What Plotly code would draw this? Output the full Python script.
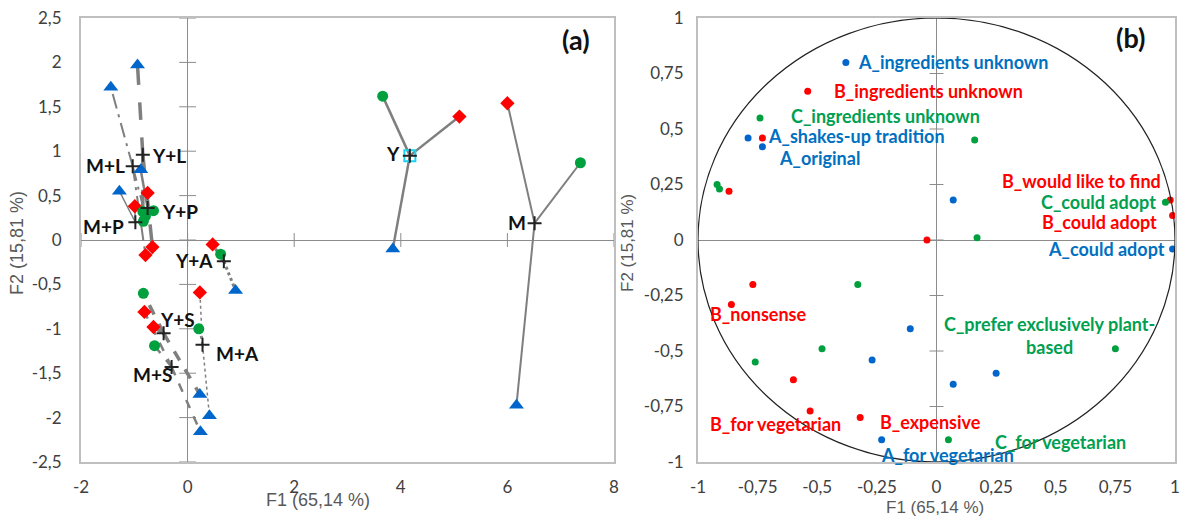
import plotly.graph_objects as go

# ---------------- Panel (a) data ----------------
groups = ["Y", "M", "Y+L", "M+L", "Y+P", "M+P", "Y+A", "M+A", "Y+S", "M+S"]
centroid_x = [4.17, 6.51, -0.84, -1.03, -0.75, -0.98, 0.68, 0.28, -0.45, -0.30]
centroid_y = [0.95, 0.19, 0.96, 0.83, 0.36, 0.20, -0.24, -1.18, -1.05, -1.43]
green_x = [3.66, 7.37, -0.84, -0.79, -0.64, -0.83, 0.62, 0.21, -0.83, -0.62]
green_y = [1.62, 0.87, 0.32, 0.27, 0.33, 0.21, -0.16, -1.00, -0.60, -1.19]
red_x = [5.10, 6.00, -0.66, -0.79, -0.75, -0.99, 0.47, 0.23, -0.64, -0.81]
red_y = [1.39, 1.54, -0.08, -0.17, 0.53, 0.38, -0.05, -0.59, -0.98, -0.81]
blue_x = [3.85, 6.17, -0.94, -1.44, -0.88, -1.28, 0.90, 0.41, 0.23, 0.24]
blue_y = [-0.10, -1.86, 1.97, 1.72, 0.79, 0.55, -0.57, -1.98, -1.74, -2.16]

a_xticks = [-2, 0, 2, 4, 6, 8]
a_yticks = [-2.5, -2, -1.5, -1, -0.5, 0, 0.5, 1, 1.5, 2, 2.5]

# ---------------- Panel (b) data ----------------
A_x = [-0.38, -0.79, -0.73, 0.07, 0.99, -0.11, -0.27, 0.07, 0.25, -0.23]
A_y = [0.80, 0.46, 0.42, 0.18, -0.04, -0.40, -0.54, -0.65, -0.60, -0.90]
A_lab = ["A_ingredients unknown", "A_shakes-up tradition", "A_original", "",
         "A_could adopt", "", "", "", "", "A_for vegetarian"]
B_x = [-0.54, -0.73, -0.87, -0.04, 0.98, 0.99, -0.77, -0.86, -0.60, -0.53, -0.32]
B_y = [0.67, 0.46, 0.22, 0.00, 0.18, 0.11, -0.20, -0.29, -0.63, -0.77, -0.80]
B_lab = ["B_ingredients unknown", "", "", "", "B_would like to find", "B_could adopt",
         "", "B_nonsense", "", "B_for vegetarian", "B_expensive"]
C_x = [-0.74, -0.92, -0.91, 0.16, 0.17, 0.96, -0.33, -0.48, -0.76, 0.75, 0.05]
C_y = [0.55, 0.25, 0.23, 0.45, 0.01, 0.17, -0.20, -0.49, -0.55, -0.49, -0.90]
C_lab = ["C_ingredients unknown", "", "", "", "", "C_could adopt", "", "", "",
         "C_prefer exclusively plant-<br>based", "C_for vegetarian"]

b_ticks = [-1, -0.75, -0.5, -0.25, 0, 0.25, 0.5, 0.75, 1]
circle_radius = 1

def fmt(v):
    return ("%g" % v).replace(".", ",")

# ---------------- styles ----------------
W, H = 1182, 520
GREEN, RED, BLUE = "#00A03E", "#FF0000", "#0066CC"
TGREEN, TRED, TBLUE = "#00A050", "#FF0000", "#0070C0"
LINE = "#7F7F7F"
line_styles = {
    "Y": ("solid", 2.5), "M": ("solid", 2.0),
    "Y+L": ("longdash", 3.5), "M+L": ("longdashdot", 2.0),
    "Y+P": ("solid", 2.5), "M+P": ("solid", 1.5),
    "Y+A": ("dot", 3.0), "M+A": ("dot", 1.5),
    "Y+S": ("dash", 3.5), "M+S": ("dash", 2.5),
}
# label placement for panel (a): (xanchor, xshift, yshift)
a_label_pos = {
    "Y": ("right", -8, 2), "M": ("right", -7, 1),
    "Y+L": ("left", 7, -1), "M+L": ("right", -6, 1),
    "Y+P": ("left", 12, -3), "M+P": ("right", -9, -4),
    "Y+A": ("right", -9, 1), "M+A": ("left", 11, -9),
    "Y+S": ("left", -6, 14), "M+S": ("right", 2, -8),
}
# label placement for panel (b): (xanchor, xshift, yshift)
A_pos = [("left", 10, 0), ("left", 18, 2), ("left", 15, -11), None, ("right", -6, 0),
         None, None, None, None, ("left", -3, -15)]
B_pos = [("left", 24, 0), None, None, None, ("right", -7, 19), ("right", -14, -6),
         None, ("left", -23, -10), None, ("center", -35, -13), ("left", 18, -4)]
C_pos = [("left", 29, 2), None, None, None, None, ("right", -7, 0), None, None, None,
         ("center", -66, 13), ("left", 45, -2)]

fig = go.Figure()

# ---- panel (a) tick marks on zero lines
fig.add_trace(go.Scatter(x=[0] * len(a_yticks), y=a_yticks, mode="markers",
                         marker=dict(symbol="line-ew", size=12, line=dict(color="#8C8C8C", width=1)),
                         hoverinfo="skip", showlegend=False, xaxis="x", yaxis="y"))
fig.add_trace(go.Scatter(x=a_xticks, y=[0] * len(a_xticks), mode="markers",
                         marker=dict(symbol="line-ns", size=10, line=dict(color="#8C8C8C", width=1)),
                         hoverinfo="skip", showlegend=False, xaxis="x", yaxis="y"))

# ---- panel (a) connecting lines
for i, g in enumerate(groups):
    dash, wid = line_styles[g]
    cx, cy = centroid_x[i], centroid_y[i]
    xs = [cx, green_x[i], None, cx, red_x[i], None, cx, blue_x[i]]
    ys = [cy, green_y[i], None, cy, red_y[i], None, cy, blue_y[i]]
    fig.add_trace(go.Scatter(x=xs, y=ys, mode="lines",
                             line=dict(color=LINE, width=wid, dash=dash),
                             hoverinfo="skip", showlegend=False, xaxis="x", yaxis="y"))

fig.add_trace(go.Scatter(x=blue_x, y=blue_y, mode="markers",
                         marker=dict(symbol="triangle-up", size=13, color=BLUE),
                         showlegend=False, xaxis="x", yaxis="y"))
fig.add_trace(go.Scatter(x=red_x, y=red_y, mode="markers",
                         marker=dict(symbol="diamond", size=11, color=RED),
                         showlegend=False, xaxis="x", yaxis="y"))
fig.add_trace(go.Scatter(x=green_x, y=green_y, mode="markers",
                         marker=dict(symbol="circle", size=11, color=GREEN),
                         showlegend=False, xaxis="x", yaxis="y"))
# Y centroid framed square
fig.add_trace(go.Scatter(x=centroid_x[:1], y=centroid_y[:1], mode="markers",
                         marker=dict(symbol="square-open", size=11, line=dict(color="#1F6FB5", width=2)),
                         showlegend=False, xaxis="x", yaxis="y"))
fig.add_trace(go.Scatter(x=centroid_x, y=centroid_y, mode="markers",
                         marker=dict(symbol="cross-thin", size=10, line=dict(color="#222222", width=2)),
                         showlegend=False, xaxis="x", yaxis="y"))

for i, g in enumerate(groups):
    xa, xs, ys = a_label_pos[g]
    fig.add_annotation(x=centroid_x[i], y=centroid_y[i], xref="x", yref="y", text=g,
                       showarrow=False, xanchor=xa, yanchor="middle", xshift=xs, yshift=ys,
                       font=dict(family="Lato", size=19, color="#111111", weight="bold"))

# ---- panel (b) tick marks on zero lines
fig.add_trace(go.Scatter(x=[0] * len(b_ticks), y=b_ticks, mode="markers",
                         marker=dict(symbol="line-ew", size=10, line=dict(color="#8C8C8C", width=1)),
                         hoverinfo="skip", showlegend=False, xaxis="x2", yaxis="y2"))

for xs_, ys_, col in [(A_x, A_y, BLUE), (B_x, B_y, RED), (C_x, C_y, GREEN)]:
    fig.add_trace(go.Scatter(x=xs_, y=ys_, mode="markers", cliponaxis=False,
                             marker=dict(symbol="circle", size=7, color=col),
                             showlegend=False, xaxis="x2", yaxis="y2"))

for xs_, ys_, labs, poss, col in [(A_x, A_y, A_lab, A_pos, TBLUE),
                                  (B_x, B_y, B_lab, B_pos, TRED),
                                  (C_x, C_y, C_lab, C_pos, TGREEN)]:
    for x, y, t, p in zip(xs_, ys_, labs, poss):
        if not t:
            continue
        xa, xsh, ysh = p
        fig.add_annotation(x=x, y=y, xref="x2", yref="y2", text=t, showarrow=False,
                           xanchor=xa, yanchor="middle", xshift=xsh, yshift=ysh, align="center",
                           font=dict(family="Lato", size=18, color=col, weight="bold"))

fig.add_shape(type="circle", xref="x2", yref="y2",
              x0=-circle_radius, y0=-circle_radius, x1=circle_radius, y1=circle_radius,
              line=dict(color="#222222", width=1.2), layer="above")

# ---- axes
ydom = [58 / H, 502 / H]
tickfont = dict(family="Lato", size=17, color="#404040")
common = dict(showgrid=False, zeroline=True, zerolinecolor="#8C8C8C", zerolinewidth=1,
              showline=True, mirror=True, linecolor="#BFBFBF", linewidth=2, ticks="",
              tickfont=tickfont, fixedrange=True, automargin=False)
fig.update_layout(
    xaxis=dict(domain=[81 / W, 614 / W], range=[-2, 8], tickvals=a_xticks,
               ticktext=[fmt(v) for v in a_xticks], anchor="y", ticklabelstandoff=9, **common),
    yaxis=dict(domain=ydom, range=[-2.5, 2.5], tickvals=a_yticks,
               ticktext=[fmt(v) for v in a_yticks], anchor="x", ticklabelstandoff=14, **common),
    xaxis2=dict(domain=[698 / W, 1175 / W], range=[-1, 1], tickvals=b_ticks,
                ticktext=[fmt(v) for v in b_ticks], anchor="y2", ticklabelstandoff=9, **common),
    yaxis2=dict(domain=ydom, range=[-1, 1], tickvals=b_ticks,
                ticktext=[fmt(v) for v in b_ticks], anchor="x2", ticklabelstandoff=9, **common),
    width=W, height=H, margin=dict(l=0, r=0, t=0, b=0),
    paper_bgcolor="white", plot_bgcolor="white", showlegend=False,
)

title_font = dict(family="Liberation Sans", size=18, color="#595959")
fig.add_annotation(x=318 / W, y=1 - 500 / H, xref="paper", yref="paper", text="F1 (65,14 %)",
                   showarrow=False, xanchor="center", yanchor="middle", font=title_font)
fig.add_annotation(x=17 / W, y=1 - 243 / H, xref="paper", yref="paper", text="F2 (15,81 %)",
                   showarrow=False, textangle=-90, xanchor="center", yanchor="middle", font=title_font)
fig.add_annotation(x=935 / W, y=1 - 507 / H, xref="paper", yref="paper", text="F1 (65,14 %)",
                   showarrow=False, xanchor="center", yanchor="middle",
                   font=dict(family="Liberation Sans", size=17, color="#595959"))
fig.add_annotation(x=627 / W, y=1 - 243 / H, xref="paper", yref="paper", text="F2 (15,81 %)",
                   showarrow=False, textangle=-90, xanchor="center", yanchor="middle",
                   font=dict(family="Liberation Sans", size=17, color="#595959"))

panel_font = dict(family="Lato", size=27, color="#111111", weight="bold")
fig.add_annotation(x=576 / W, y=1 - 40 / H, xref="paper", yref="paper", text="(a)",
                   showarrow=False, xanchor="center", yanchor="middle", font=panel_font)
fig.add_annotation(x=1130 / W, y=1 - 38 / H, xref="paper", yref="paper", text="(b)",
                   showarrow=False, xanchor="center", yanchor="middle", font=panel_font)

fig.write_html("out.html", config={"displayModeBar": False},
               post_script="document.body.style.margin='0px';document.body.style.padding='0px';")
